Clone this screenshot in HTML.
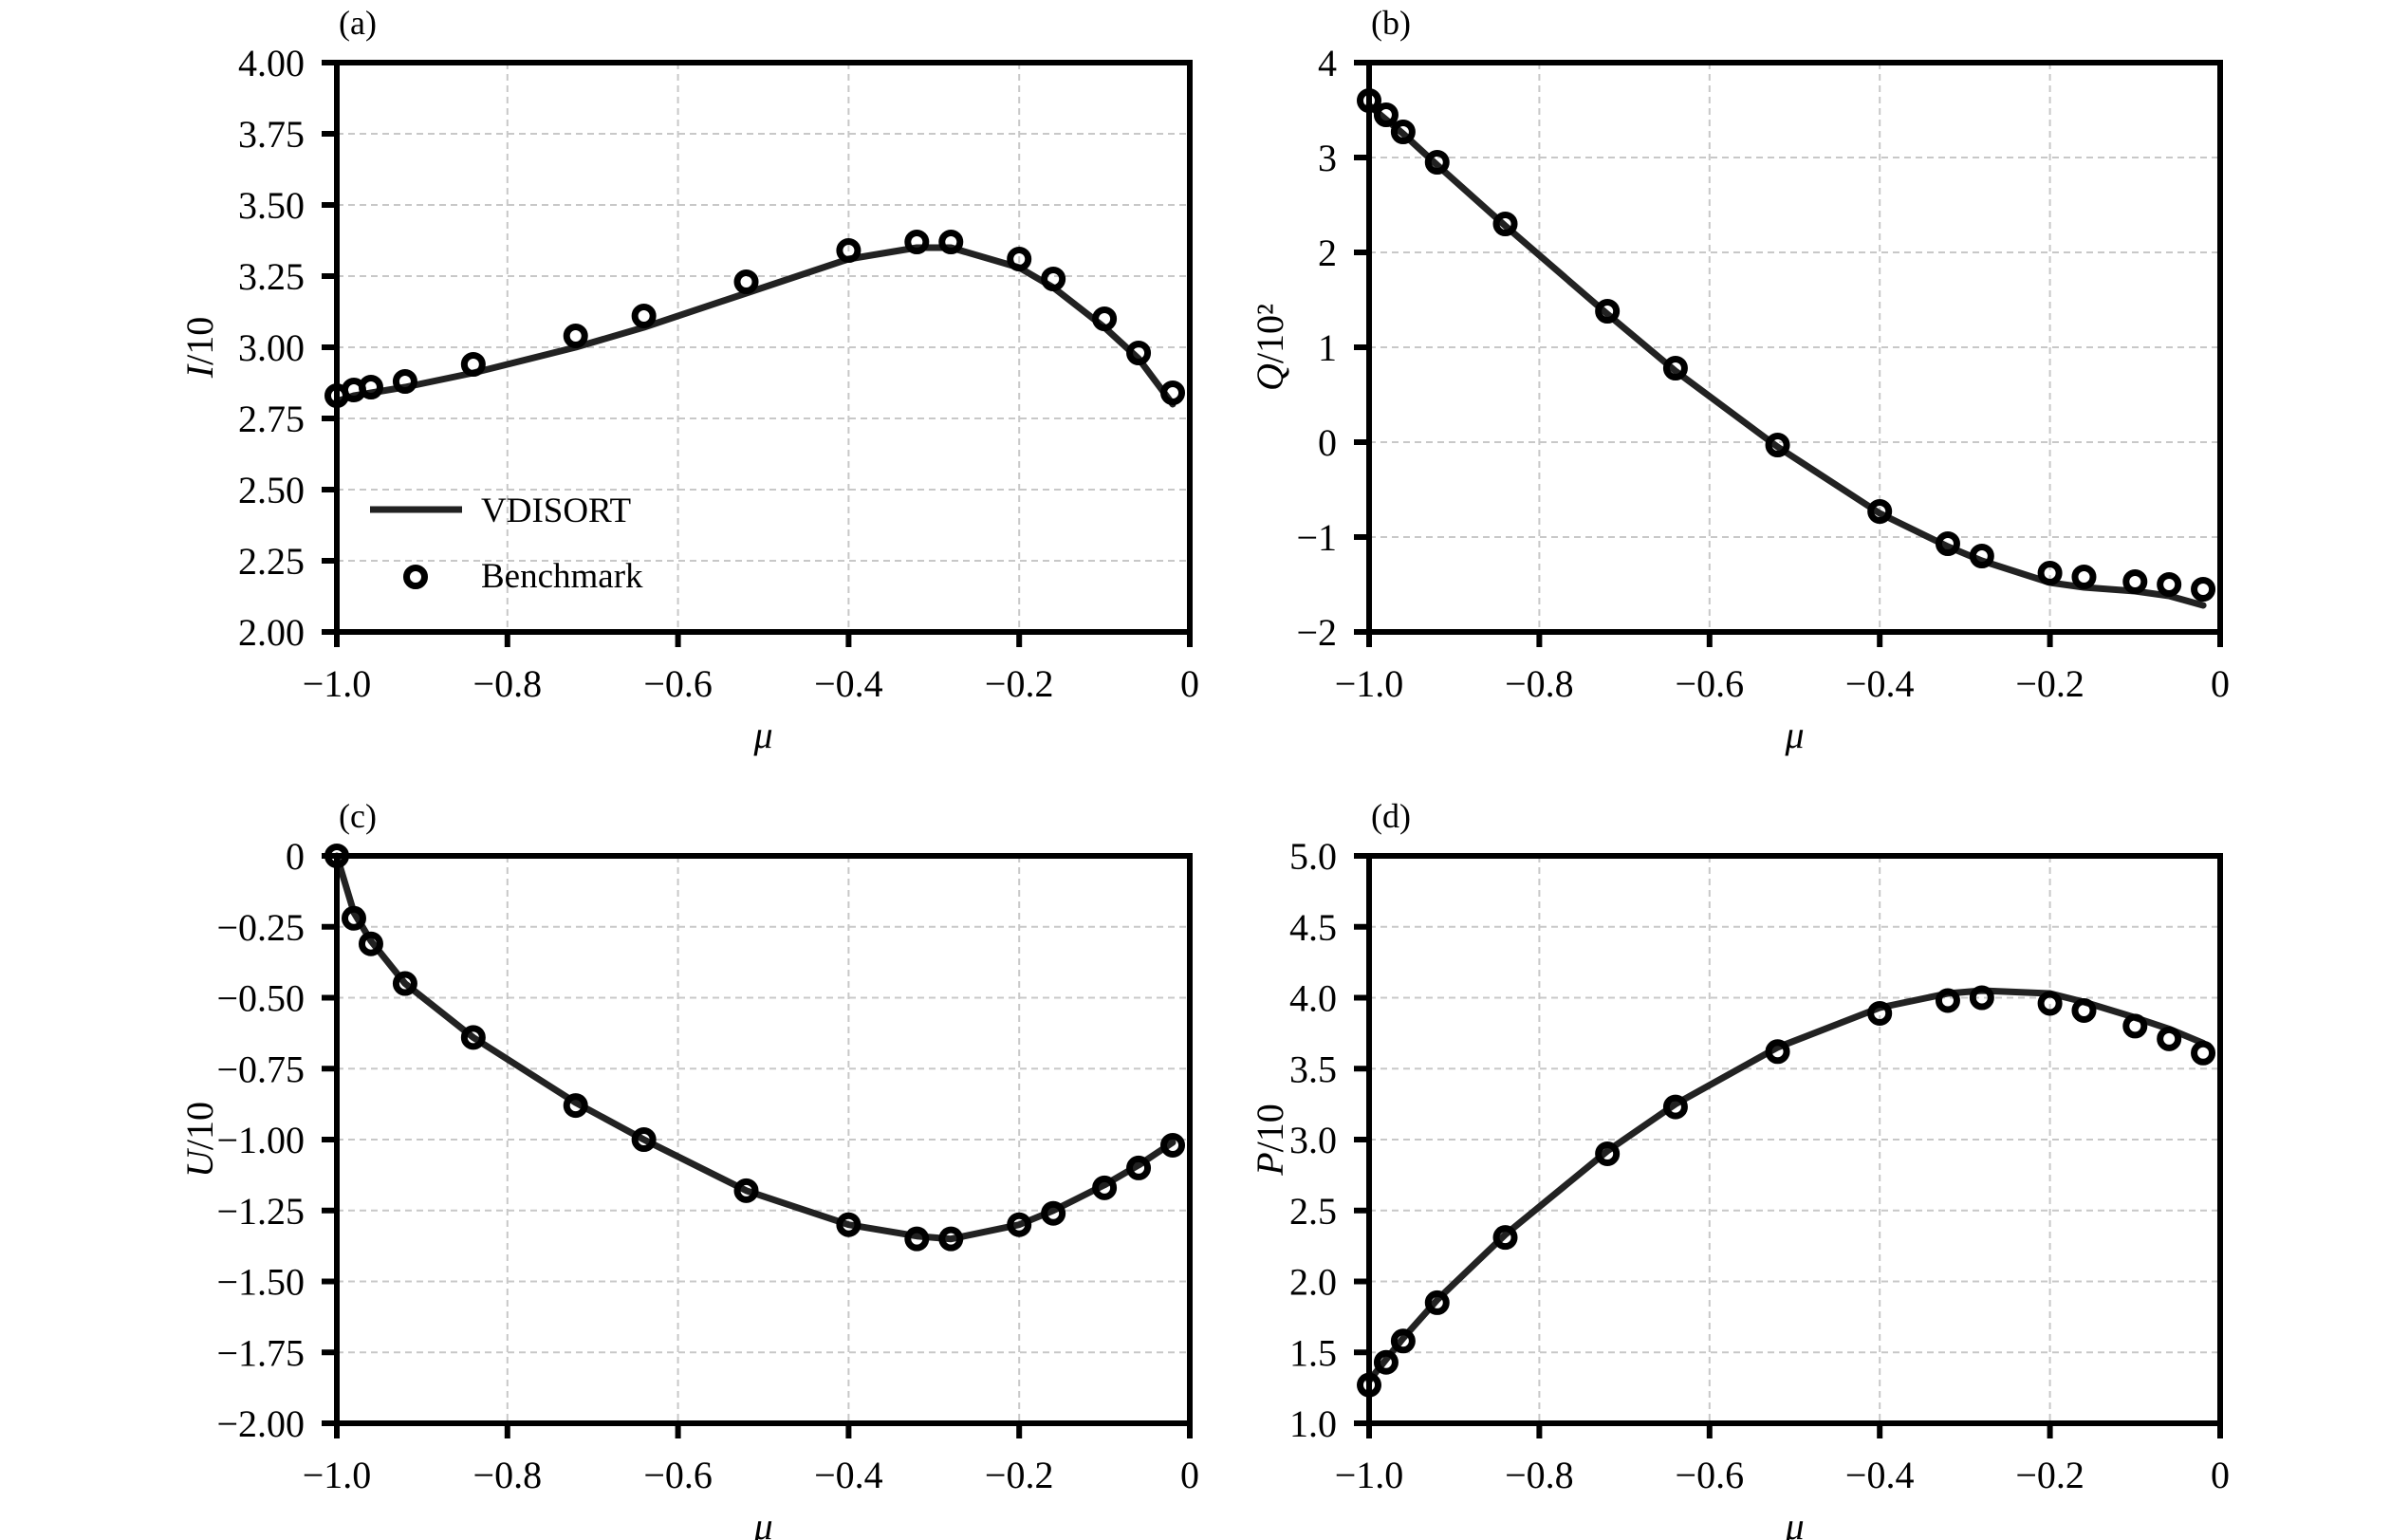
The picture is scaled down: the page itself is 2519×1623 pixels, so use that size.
<!DOCTYPE html>
<html><head><meta charset="utf-8">
<style>
html,body{margin:0;padding:0;background:#fff;}
svg{display:block;font-family:"Liberation Serif",serif;}
</style></head>
<body>
<svg id="fig" width="2519" height="1623" viewBox="0 0 2519 1623" xmlns="http://www.w3.org/2000/svg"></svg>
<script>
const mu = [-1, -0.98, -0.96, -0.92, -0.84, -0.72, -0.64, -0.52, -0.40, -0.32, -0.28, -0.20, -0.16, -0.10, -0.06, -0.02];
const xTicks = [-1.0, -0.8, -0.6, -0.4, -0.2, 0];
const xTickLabels = ["\u22121.0", "\u22120.8", "\u22120.6", "\u22120.4", "\u22120.2", "0"];

const iBench = [2.83,2.85,2.86,2.88,2.94,3.04,3.11,3.23,3.34,3.37,3.37,3.31,3.24,3.10,2.98,2.84];
const iLine  = [2.81,2.83,2.84,2.86,2.91,3.00,3.07,3.19,3.31,3.35,3.35,3.28,3.21,3.07,2.96,2.80];
const iTicks = [2.00,2.25,2.50,2.75,3.00,3.25,3.50,3.75,4.00];
const iTickLabels = ["2.00","2.25","2.50","2.75","3.00","3.25","3.50","3.75","4.00"];

const qBench = [3.6,3.45,3.27,2.95,2.3,1.38,0.78,-0.03,-0.73,-1.07,-1.2,-1.38,-1.42,-1.47,-1.5,-1.55];
const qLine  = [3.55,3.40,3.25,2.92,2.28,1.35,0.75,-0.05,-0.75,-1.1,-1.25,-1.48,-1.53,-1.57,-1.62,-1.72];
const qTicks = [-2,-1,0,1,2,3,4];
const qTickLabels = ["\u22122","\u22121","0","1","2","3","4"];

const uBench = [0,-0.22,-0.31,-0.45,-0.64,-0.88,-1.0,-1.18,-1.3,-1.35,-1.35,-1.3,-1.26,-1.17,-1.1,-1.02];
const uLine  = [0,-0.2,-0.3,-0.45,-0.64,-0.87,-1.0,-1.18,-1.3,-1.34,-1.35,-1.3,-1.25,-1.16,-1.09,-1.01];
const uTicks = [-2.00,-1.75,-1.50,-1.25,-1.00,-0.75,-0.50,-0.25,0];
const uTickLabels = ["\u22122.00","\u22121.75","\u22121.50","\u22121.25","\u22121.00","\u22120.75","\u22120.50","\u22120.25","0"];

const pBench = [1.27,1.43,1.58,1.85,2.31,2.90,3.23,3.62,3.89,3.98,4.0,3.96,3.91,3.80,3.71,3.61];
const pLine  = [1.3,1.45,1.6,1.87,2.33,2.92,3.25,3.65,3.93,4.03,4.05,4.03,3.97,3.86,3.78,3.68];
const pTicks = [1.0,1.5,2.0,2.5,3.0,3.5,4.0,4.5,5.0];
const pTickLabels = ["1.0","1.5","2.0","2.5","3.0","3.5","4.0","4.5","5.0"];

const NS = "http://www.w3.org/2000/svg";
const svg = document.getElementById('fig');
function mk(tag, attrs, parent){
  const e = document.createElementNS(NS, tag);
  for (const k in attrs) e.setAttribute(k, attrs[k]);
  (parent||svg).appendChild(e);
  return e;
}

const panels = [
  {id:'a', x0:355, x1:1254, y0:66, y1:666, ymin:2, ymax:4, ticks:iTicks, labels:iTickLabels, bench:iBench, line:iLine, yl:'I', yd:'/10', ylx:210, legend:true},
  {id:'b', x0:1443, x1:2340, y0:66, y1:666, ymin:-2, ymax:4, ticks:qTicks, labels:qTickLabels, bench:qBench, line:qLine, yl:'Q', yd:'/10\u00B2', ylx:1338},
  {id:'c', x0:355, x1:1254, y0:902, y1:1500, ymin:-2, ymax:0, ticks:uTicks, labels:uTickLabels, bench:uBench, line:uLine, yl:'U', yd:'/10', ylx:210},
  {id:'d', x0:1443, x1:2340, y0:902, y1:1500, ymin:1, ymax:5, ticks:pTicks, labels:pTickLabels, bench:pBench, line:pLine, yl:'P', yd:'/10', ylx:1338}
];

panels.forEach(p => {
  const g = mk('g', {});
  
  
  const xs = v => p.x0 + (v + 1) * (p.x1 - p.x0);
  const ys = v => p.y1 - (v - p.ymin) / (p.ymax - p.ymin) * (p.y1 - p.y0);

  // grid
  xTicks.forEach((t, i) => {
    if (i === 0 || i === xTicks.length - 1) return;
    const l = mk('line', {x1:xs(t), x2:xs(t), y1:p.y0, y2:p.y1, stroke:'#c8c8c8', 'stroke-width':2, 'stroke-dasharray':'7,5'}, g);
    
    
  });
  p.ticks.forEach((t, i) => {
    if (i === 0 || i === p.ticks.length - 1) return;
    const l = mk('line', {x1:p.x0, x2:p.x1, y1:ys(t), y2:ys(t), stroke:'#c8c8c8', 'stroke-width':2, 'stroke-dasharray':'7,5'}, g);
    
    
  });

  // series line
  const d = p.line.map((v, i) => (i ? 'L' : 'M') + xs(mu[i]).toFixed(1) + ',' + ys(v).toFixed(1)).join(' ');
  const pl = mk('path', {d:d, fill:'none', stroke:'#222', 'stroke-width':7, 'stroke-linejoin':'round', 'stroke-linecap':'round'}, g);
  
  

  // markers
  p.bench.forEach((v, i) => {
    const c = mk('circle', {cx:xs(mu[i]), cy:ys(v), r:9.5, fill:'none', stroke:'#000', 'stroke-width':7}, g);
    
    
  });

  // frame
  const fr = mk('rect', {x:p.x0, y:p.y0, width:p.x1-p.x0, height:p.y1-p.y0, fill:'none', stroke:'#000', 'stroke-width':6}, g);
  
  

  // x ticks
  xTicks.forEach((t, i) => {
    const l = mk('line', {x1:xs(t), x2:xs(t), y1:p.y1, y2:p.y1+16, stroke:'#000', 'stroke-width':6}, g);
    
    
    const tx = mk('text', {x:xs(t), y:p.y1+68, 'font-size':40, 'text-anchor':'middle', fill:'#000'}, g);
    tx.textContent = xTickLabels[i];
    
    
  });
  // y ticks
  p.ticks.forEach((t, i) => {
    const l = mk('line', {x1:p.x0-16, x2:p.x0, y1:ys(t), y2:ys(t), stroke:'#000', 'stroke-width':6}, g);
    
    
    const tx = mk('text', {x:p.x0-34, y:ys(t)+14, 'font-size':40, 'text-anchor':'end', fill:'#000'}, g);
    tx.textContent = p.labels[i];
    
    
  });

  // axis titles
  const xt = mk('text', {x:(p.x0+p.x1)/2, y:p.y1+122, 'font-size':40, 'font-style':'italic', 'text-anchor':'middle'}, g);
  xt.textContent = '\u03BC';
  
  
  const cy = (p.y0 + p.y1) / 2;
  const yt = mk('text', {x:p.ylx, y:cy, 'font-size':40, 'text-anchor':'middle', transform:'rotate(-90 '+p.ylx+' '+cy+')', dy:14}, g);
  const ts1 = mk('tspan', {'font-style':'italic'}, yt); ts1.textContent = p.yl;
  const ts2 = mk('tspan', {}, yt); ts2.textContent = p.yd;
  
  

  // panel label
  const pt = mk('text', {x:p.x0+2, y:p.y0-30, 'font-size':36}, g);
  pt.textContent = '(' + p.id + ')';
  
  

  if (p.legend) {
    const lg = mk('g', {}, g);
    
    
    const ll = mk('line', {x1:390, x2:487, y1:537, y2:537, stroke:'#222', 'stroke-width':7}, lg);
    
    
    const t1 = mk('text', {x:507, y:550, 'font-size':37}, lg);
    t1.textContent = 'VDISORT';
    
    
    const lc = mk('circle', {cx:438, cy:608, r:9.5, fill:'none', stroke:'#000', 'stroke-width':7}, lg);
    
    
    const t2 = mk('text', {x:507, y:619, 'font-size':37}, lg);
    t2.textContent = 'Benchmark';
    
    
  }
});
</script>
</body></html>
